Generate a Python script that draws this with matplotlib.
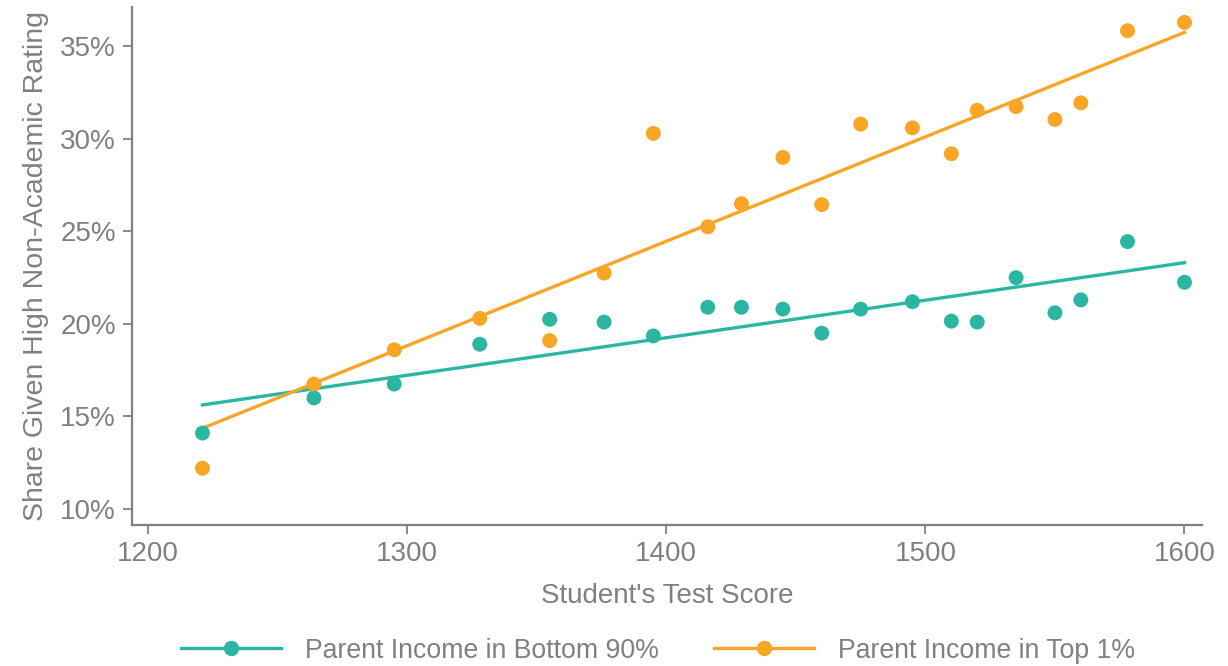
import matplotlib.pyplot as plt
from matplotlib.ticker import FuncFormatter
from matplotlib.lines import Line2D

plt.rcParams['font.family'] = ['Liberation Sans', 'DejaVu Sans']

# binned scatter: share with high non-academic rating by test score
scores = [1221, 1264, 1295, 1328, 1355, 1376, 1395, 1416, 1429, 1445,
          1460, 1475, 1495, 1510, 1520, 1535, 1550, 1560, 1578, 1600]
bottom90 = [14.1, 16.0, 16.75, 18.9, 20.25, 20.1, 19.35, 20.9, 20.9, 20.8,
            19.5, 20.8, 21.2, 20.15, 20.1, 22.5, 20.6, 21.3, 24.45, 22.25]
top1 = [12.2, 16.75, 18.6, 20.3, 19.1, 22.75, 30.3, 25.25, 26.5, 29.0,
        26.45, 30.8, 30.6, 29.2, 31.55, 31.75, 31.05, 31.95, 35.85, 36.3]

# fitted lines, evaluated at the ends of the score range
fit_x = [1221, 1600]
fit_bottom90 = [15.62, 23.31]
fit_top1 = [14.36, 35.76]

series = [("Parent Income in Bottom 90%", bottom90, fit_bottom90, "#2bb6a2"),
          ("Parent Income in Top 1%", top1, fit_top1, "#f9a526")]
grey = "#808080"
fs = 20

fig = plt.figure(figsize=(12.28, 6.66), dpi=100)
ax = fig.add_axes([0.1075, 0.212, 0.871, 0.778])

handles = []
for label, vals, fit, color in series:
    ax.scatter(scores, vals, s=115, color=color, edgecolor='none', zorder=3)
    ax.plot(fit_x, fit, color=color, lw=2.4, zorder=2)
    handles.append(Line2D([], [], color=color, lw=2.4, marker='o',
                          markersize=10, label=label))

ax.set_xlim(1193.8, 1606.6)
ax.set_ylim(9.14, 37.15)
ax.set_xticks([1200, 1300, 1400, 1500, 1600])
ax.set_yticks([10, 15, 20, 25, 30, 35])
ax.yaxis.set_major_formatter(FuncFormatter(lambda v, _: f"{v:.0f}%"))

for side in ['top', 'right']:
    ax.spines[side].set_visible(False)
for side in ['left', 'bottom']:
    ax.spines[side].set_color(grey)
    ax.spines[side].set_linewidth(1.6)
ax.tick_params(colors=grey, labelsize=fs, length=6.5, width=1.3, pad=5)

ax.set_xlabel("Student's Test Score", color=grey, fontsize=fs, labelpad=12)
ax.set_ylabel("Share Given High Non-Academic Rating", color=grey,
              fontsize=20.5, labelpad=8)

leg = fig.legend(handles=handles, loc='center', bbox_to_anchor=(0.536, 0.023),
                 ncol=2, frameon=False, fontsize=19.2, handlelength=3.75,
                 columnspacing=2.05, handletextpad=0.9)
for t in leg.get_texts():
    t.set_color(grey)

fig.savefig("out.png", dpi=100)
